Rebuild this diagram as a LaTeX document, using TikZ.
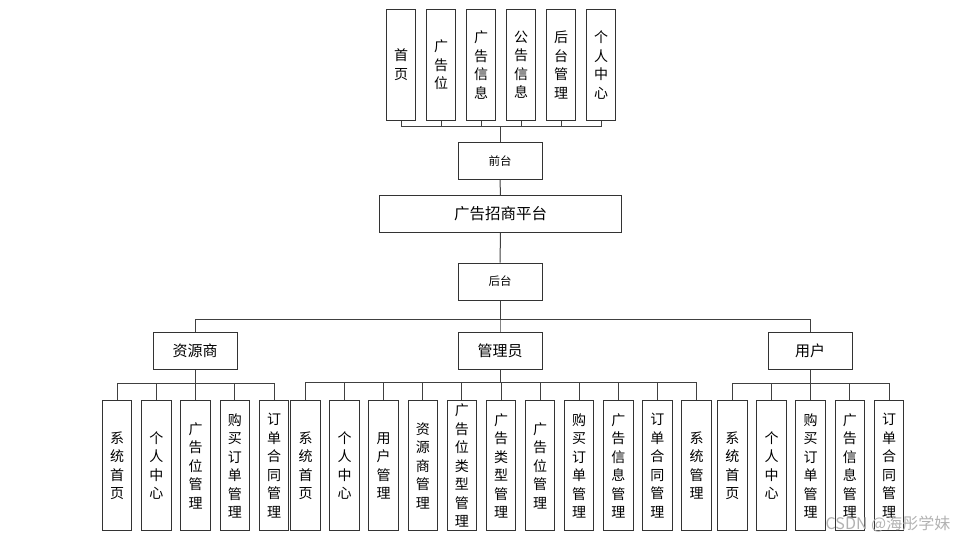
\documentclass[tikz,border=0pt]{standalone}
\usepackage{fontspec}
\newfontfamily\cjk{Noto Sans CJK SC}
\tikzset{
  box/.style={draw=black!80, line width=1pt, inner sep=0pt, align=center, font=\cjk\fontsize{14}{18.5}\selectfont},
  colbox/.style={box, minimum width=29.5, minimum height=130.5},
  topbox/.style={box, minimum width=29.5, minimum height=110.5},
  midbox/.style={box, minimum width=84, minimum height=37, font=\cjk\fontsize{15}{18}\selectfont},
  link/.style={draw=black!75, line width=1pt},
}

\begin{document}
\begin{tikzpicture}[x=1pt,y=1pt,yscale=-1,xscale=1]
\useasboundingbox (0,0) rectangle (974,541);

%Top row (front pages)
\foreach \t [count=\i] in {{首\\页},{广\\告\\位},{广\\告\\信\\息},{公\\告\\信\\息},{后\\台\\管\\理},{个\\人\\中\\心}}
  \node [topbox] (t\i) at ({361+40*\i},64.8) {\t};

%Main column
\node [midbox, font=\cjk\fontsize{11.5}{14}\selectfont] (qt) at (500,161) {前台};
\node [box, minimum width=242, minimum height=36.5, font=\cjk\fontsize{15.5}{18}\selectfont] (pt) at (500.5,214) {广告招商平台};
\node [midbox, font=\cjk\fontsize{11.5}{14}\selectfont] (ht) at (500,281.5) {后台};

%Roles
\node [midbox] (zys) at (195,351) {资源商};
\node [midbox] (gly) at (500,350.5) {管理员};
\node [midbox] (yh) at (810,351) {用户};

%Role children
\foreach \t [count=\i from 0] in {{系\\统\\首\\页},{个\\人\\中\\心},{广\\告\\位\\管\\理},{购\\买\\订\\单\\管\\理},{订\\单\\合\\同\\管\\理}}
  \node [colbox] (z\i) at ({117+39.25*\i},465.7) {\t};
\foreach \t [count=\i from 0] in {{系\\统\\首\\页},{个\\人\\中\\心},{用\\户\\管\\理},{资\\源\\商\\管\\理},{广\\告\\位\\类\\型\\管\\理},{广\\告\\类\\型\\管\\理},{广\\告\\位\\管\\理},{购\\买\\订\\单\\管\\理},{广\\告\\信\\息\\管\\理},{订\\单\\合\\同\\管\\理},{系\\统\\管\\理}}
  \node [colbox] (g\i) at ({305.5+39.1*\i},465.7) {\t};
\foreach \t [count=\i from 0] in {{系\\统\\首\\页},{个\\人\\中\\心},{购\\买\\订\\单\\管\\理},{广\\告\\信\\息\\管\\理},{订\\单\\合\\同\\管\\理}}
  \node [colbox] (y\i) at ({732.3+39.2*\i},465.7) {\t};

%Connectors
\path (qt.north) ++(0,-16) coordinate (bq);
\foreach \i in {1,...,6}
  \draw [link] (t\i.south) |- (bq) -- (qt.north);
\draw [link] (qt.south) -- (pt.north);
\draw [link] (pt.south) -- (ht.north);
\path (ht.south) ++(0,19) coordinate (bh);
\foreach \r in {zys,gly,yh}
  \draw [link] (\r.north) |- (bh) -- (ht.south);
\path (zys.south) ++(0,13.5) coordinate (bz);
\foreach \i in {0,...,4}
  \draw [link] (z\i.north) |- (bz) -- (zys.south);
\path (gly.south) ++(0,13) coordinate (bg);
\foreach \i in {0,...,10}
  \draw [link] (g\i.north) |- (bg) -- (gly.south);
\path (yh.south) ++(0,13.5) coordinate (by);
\foreach \i in {0,...,4}
  \draw [link] (y\i.north) |- (by) -- (yh.south);

%Watermark
\node [text=black!30, font=\cjk\fontsize{16}{18}\selectfont, inner sep=0pt] (wm) at (888,524) {CSDN @海彤学妹};
\end{tikzpicture}
\end{document}
